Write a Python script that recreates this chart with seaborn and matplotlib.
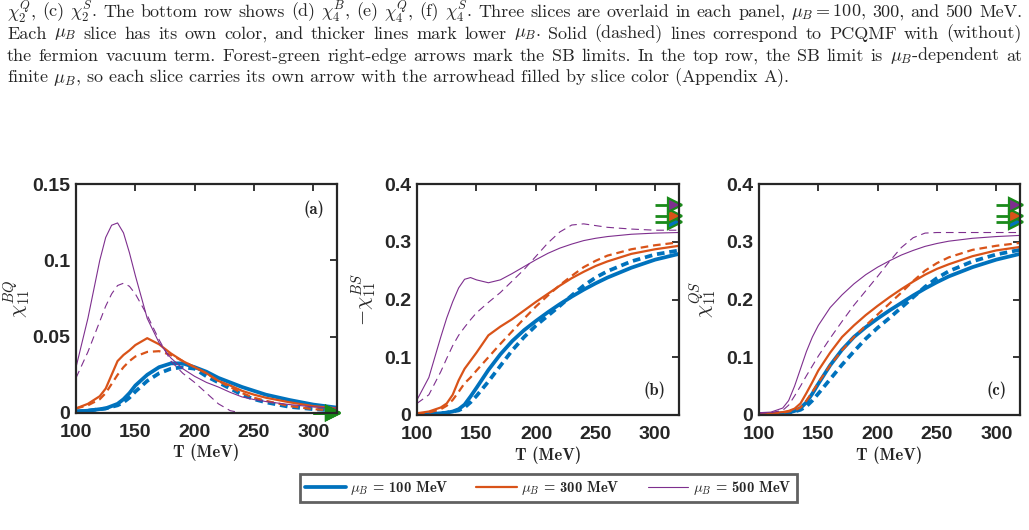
import numpy as np
import pandas as pd
import seaborn as sns
import matplotlib.pyplot as plt
from matplotlib.lines import Line2D

# temperature grid (MeV)
T = [100, 110, 120, 125, 130, 135, 140, 145, 150, 160, 170, 180, 190, 200,
     210, 220, 230, 240, 250, 260, 280, 300, 320]

mu_values = [100, 300, 500]

# (a) chi_11^BQ
bq_100_with = [0.001, 0.0015, 0.0025, 0.003, 0.0045, 0.006, 0.009, 0.013, 0.018, 0.025, 0.030, 0.0325,
               0.0325, 0.030, 0.027, 0.023, 0.020, 0.017, 0.0145, 0.012, 0.0085, 0.0055, 0.0035]
bq_100_without = [0.001, 0.0015, 0.0025, 0.003, 0.004, 0.005, 0.007, 0.010, 0.014, 0.021, 0.026, 0.029,
                  0.030, 0.029, 0.024, 0.020, 0.016, 0.012, 0.009, 0.007, 0.004, 0.0025, 0.0015]
bq_300_with = [0.003, 0.006, 0.011, 0.016, 0.025, 0.034, 0.038, 0.041, 0.0445, 0.049, 0.045, 0.039,
               0.034, 0.030, 0.026, 0.021, 0.018, 0.0145, 0.012, 0.010, 0.007, 0.0045, 0.003]
bq_300_without = [0.003, 0.005, 0.009, 0.013, 0.019, 0.025, 0.030, 0.034, 0.037, 0.040, 0.0405, 0.038,
                  0.034, 0.030, 0.026, 0.021, 0.017, 0.013, 0.010, 0.008, 0.0045, 0.0025, 0.0015]
bq_500_with = [0.030, 0.062, 0.100, 0.115, 0.123, 0.1245, 0.118, 0.105, 0.090, 0.062, 0.046, 0.036,
               0.029, 0.024, 0.020, 0.017, 0.0135, 0.0105, 0.0088, 0.0075, 0.0055, 0.004, 0.003]
bq_500_without = [0.023, 0.040, 0.060, 0.070, 0.078, 0.0835, 0.085, 0.083, 0.078, 0.064, 0.048, 0.034,
                  0.026, 0.020, 0.013, 0.006, 0.0015, 0.0, -0.0003, -0.0004, -0.0004, -0.0003, -0.0002]

# (b) -chi_11^BS
bs_100_with = [0.001, 0.0015, 0.003, 0.004, 0.006, 0.010, 0.018, 0.032, 0.047, 0.078, 0.105, 0.128,
               0.147, 0.163, 0.178, 0.192, 0.205, 0.217, 0.228, 0.238, 0.255, 0.269, 0.279]
bs_100_without = [0.001, 0.0015, 0.003, 0.004, 0.006, 0.008, 0.013, 0.022, 0.033, 0.058, 0.085, 0.112,
                  0.135, 0.155, 0.172, 0.189, 0.207, 0.224, 0.238, 0.249, 0.266, 0.278, 0.285]
bs_300_with = [0.003, 0.006, 0.013, 0.020, 0.035, 0.060, 0.080, 0.094, 0.108, 0.138, 0.153, 0.166,
               0.181, 0.196, 0.210, 0.224, 0.237, 0.248, 0.258, 0.266, 0.279, 0.287, 0.293]
bs_300_without = [0.002, 0.004, 0.010, 0.016, 0.026, 0.040, 0.055, 0.065, 0.077, 0.100, 0.123, 0.145,
                  0.167, 0.188, 0.207, 0.225, 0.241, 0.256, 0.267, 0.276, 0.287, 0.294, 0.299]
bs_500_with = [0.026, 0.065, 0.135, 0.168, 0.196, 0.220, 0.235, 0.238, 0.234, 0.229, 0.234, 0.245,
               0.257, 0.269, 0.280, 0.289, 0.296, 0.302, 0.306, 0.309, 0.313, 0.315, 0.316]
bs_500_without = [0.020, 0.035, 0.075, 0.098, 0.120, 0.138, 0.152, 0.165, 0.177, 0.195, 0.212, 0.232,
                  0.252, 0.275, 0.298, 0.317, 0.329, 0.331, 0.328, 0.325, 0.322, 0.320, 0.320]

# (c) chi_11^QS
qs_100_with = [0.001, 0.0015, 0.003, 0.004, 0.007, 0.012, 0.022, 0.037, 0.054, 0.086, 0.113, 0.135,
               0.152, 0.167, 0.181, 0.194, 0.207, 0.219, 0.230, 0.240, 0.256, 0.269, 0.279]
qs_100_without = [0.001, 0.0015, 0.003, 0.004, 0.006, 0.009, 0.015, 0.025, 0.037, 0.062, 0.087, 0.110,
                  0.132, 0.151, 0.168, 0.186, 0.204, 0.222, 0.237, 0.249, 0.266, 0.278, 0.286]
qs_300_with = [0.002, 0.003, 0.005, 0.007, 0.011, 0.020, 0.038, 0.057, 0.077, 0.108, 0.135, 0.155,
               0.173, 0.189, 0.204, 0.218, 0.231, 0.243, 0.253, 0.261, 0.275, 0.285, 0.291]
qs_300_without = [0.002, 0.003, 0.004, 0.006, 0.008, 0.013, 0.025, 0.040, 0.056, 0.086, 0.112, 0.135,
                  0.155, 0.174, 0.193, 0.212, 0.232, 0.250, 0.263, 0.273, 0.286, 0.293, 0.298]
qs_500_with = [0.004, 0.005, 0.012, 0.025, 0.050, 0.080, 0.110, 0.135, 0.155, 0.186, 0.208, 0.227,
               0.243, 0.256, 0.267, 0.277, 0.285, 0.292, 0.297, 0.301, 0.306, 0.309, 0.311]
qs_500_without = [0.003, 0.004, 0.008, 0.017, 0.033, 0.050, 0.068, 0.085, 0.102, 0.133, 0.162, 0.190,
                  0.215, 0.240, 0.266, 0.290, 0.307, 0.315, 0.316, 0.316, 0.316, 0.316, 0.316]

# SB limits (arrows at right edge), one per mu_B slice
sb_bq = [0.0, 0.0, 0.0]
sb_bs = [0.334, 0.345, 0.364]
sb_qs = [0.334, 0.345, 0.364]

panels = {
    "a": [bq_100_with, bq_100_without, bq_300_with, bq_300_without, bq_500_with, bq_500_without],
    "b": [bs_100_with, bs_100_without, bs_300_with, bs_300_without, bs_500_with, bs_500_without],
    "c": [qs_100_with, qs_100_without, qs_300_with, qs_300_without, qs_500_with, qs_500_without],
}
sb_limits = {"a": sb_bq, "b": sb_bs, "c": sb_qs}

rows = []
for p, curves in panels.items():
    k = 0
    for mu in mu_values:
        for model in ["with", "without"]:
            for t, v in zip(T, curves[k]):
                rows.append({"panel": p, "mu": mu, "model": model, "T": t, "chi": v})
            k += 1
df = pd.DataFrame(rows)

colors = {100: "#0072BD", 300: "#D95319", 500: "#7E2F8E"}
widths = {100: 2.7, 300: 1.6, 500: 0.8}
green = "#1a8a1a"

sns.set_theme(style="white")
plt.rcParams["mathtext.fontset"] = "cm"
plt.rcParams["lines.scale_dashes"] = False
plt.rcParams["font.family"] = ["Liberation Sans", "DejaVu Sans"]

fig = plt.figure(figsize=(10.29, 5.30), dpi=100)

boxes = {"a": [0.0739, 0.2208, 0.2536, 0.432],
         "b": [0.4052, 0.2170, 0.2546, 0.4358],
         "c": [0.7376, 0.2170, 0.2536, 0.4358]}
ylabels = {"a": r"$\chi_{11}^{BQ}$", "b": r"$-\chi_{11}^{BS}$", "c": r"$\chi_{11}^{QS}$"}
ylab_x = {"a": -0.165, "b": -0.145, "c": -0.152}
ylims = {"a": (0, 0.15), "b": (0, 0.4), "c": (0, 0.4)}
yticks = {"a": [0, 0.05, 0.1, 0.15], "b": [0, 0.1, 0.2, 0.3, 0.4], "c": [0, 0.1, 0.2, 0.3, 0.4]}
ytlabels = {"a": ["0", "0.05", "0.1", "0.15"], "b": ["0", "0.1", "0.2", "0.3", "0.4"],
            "c": ["0", "0.1", "0.2", "0.3", "0.4"]}
tag_pos = {"a": (0.95, 0.93, "top"), "b": (0.95, 0.07, "bottom"), "c": (0.95, 0.07, "bottom")}

for p in ["a", "b", "c"]:
    ax = fig.add_axes(boxes[p])
    sns.lineplot(data=df[df.panel == p], x="T", y="chi", hue="mu", size="mu", style="model",
                 palette=colors, sizes=widths, dashes={"with": "", "without": (5.5, 3.5)},
                 estimator=None, sort=True, legend=False, ax=ax)

    # SB limit arrows at the right edge
    for mu, lim in zip(mu_values, sb_limits[p]):
        face = green if p == "a" else colors[mu]
        ax.plot([300, 317], [lim, lim], color=green, lw=2.0, solid_capstyle="butt", clip_on=False)
        ax.plot([316.5], [lim], marker=">", ms=9.5, mfc=face, mec=green, mew=1.6, clip_on=False)

    ax.set_xlim(100, 320)
    ax.set_ylim(*ylims[p])
    ax.set_xticks([100, 150, 200, 250, 300])
    ax.set_xticklabels(["100", "150", "200", "250", "300"])
    ax.set_yticks(yticks[p])
    ax.set_yticklabels(ytlabels[p])
    ax.tick_params(direction="in", length=5, width=1.3, top=True, right=True, pad=4,
                   labelsize=14)
    ax.tick_params(axis="x", pad=8)
    for lab in ax.get_xticklabels() + ax.get_yticklabels():
        lab.set_fontweight("bold")
    for s in ax.spines.values():
        s.set_linewidth(1.6)
        s.set_color("#262626")
    ax.set_xlabel("T (MeV)", family="cmb10", fontsize=12)
    ax.xaxis.set_label_coords(0.5, -0.135)
    ax.set_ylabel(ylabels[p], fontsize=15)
    ax.yaxis.set_label_coords(ylab_x[p], 0.5)
    tx, ty, va = tag_pos[p]
    ax.text(tx, ty, "(" + p + ")", transform=ax.transAxes, ha="right", va=va,
            family="cmb10", fontsize=12)

handles = [Line2D([], [], color=colors[m], lw=widths[m]) for m in mu_values]
labels = [r"$\mu_B$ = %d MeV" % m for m in mu_values]
leg = fig.legend(handles, labels, loc="center", bbox_to_anchor=(0.5326, 0.0792), ncol=3,
                 frameon=True, fancybox=False, prop={"family": "cmb10", "size": 10.5},
                 handlelength=2.8, handletextpad=0.3, columnspacing=1.9,
                 borderpad=0.35, borderaxespad=0)
leg.get_frame().set_edgecolor("#3a3a3a")
leg.get_frame().set_linewidth(2.0)

caption = [
    r"$\chi_2^Q$, (c) $\chi_2^S$. The bottom row shows (d) $\chi_4^B$, (e) $\chi_4^Q$, (f) $\chi_4^S$. "
    r"Three slices are overlaid in each panel, $\mu_B = 100$, 300, and 500 MeV.",
    r"Each $\mu_B$ slice has its own color, and thicker lines mark lower $\mu_B$. "
    r"Solid (dashed) lines correspond to PCQMF with (without)",
    r"the fermion vacuum term. Forest-green right-edge arrows mark the SB limits. "
    r"In the top row, the SB limit is $\mu_B$-dependent at",
    r"finite $\mu_B$, so each slice carries its own arrow with the arrowhead filled by slice color (Appendix A).",
]


def split_words(line):
    # split on spaces that are not inside $...$
    words, cur, inside = [], "", False
    for ch in line:
        if ch == "$":
            inside = not inside
        if ch == " " and not inside:
            words.append(cur)
            cur = ""
        else:
            cur += ch
    words.append(cur)
    return words


renderer = fig.canvas.get_renderer()
x_left, x_right = 7, 1022
for i, line in enumerate(caption):
    y = 1 - (12 + 22 * i) / 530
    if i == len(caption) - 1:
        fig.text(x_left / 1029, y, line, family="cmr10", fontsize=13, ha="left", va="center")
        continue
    words = split_words(line)
    texts = [fig.text(0, y, w, family="cmr10", fontsize=13, ha="left", va="center") for w in words]
    wpx = [t.get_window_extent(renderer).width for t in texts]
    gap = (x_right - x_left - sum(wpx)) / (len(words) - 1)
    x = x_left
    for t, w in zip(texts, wpx):
        t.set_x(x / 1029)
        x += w + gap

fig.savefig("out.png", dpi=100)
